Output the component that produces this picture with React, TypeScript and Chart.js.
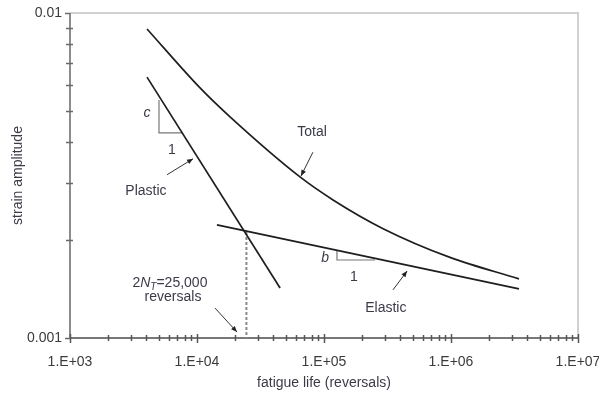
import React, { useEffect, useRef } from "react";
import { Chart, registerables } from "chart.js";

Chart.register(...registerables);

// ---- data ----
const xTickValues = [1e3, 1e4, 1e5, 1e6, 1e7];
const xTickLabels = ["1.E+03", "1.E+04", "1.E+05", "1.E+06", "1.E+07"];
const yTickValues = [0.001, 0.01];
const yTickLabels = ["0.001", "0.01"];

const totalLife = [4040, 10570, 18200, 64700, 117800, 292000, 982000, 3430000];
const totalStrain = [0.00893, 0.00588, 0.00479, 0.00313, 0.00266, 0.00217, 0.00177, 0.00152];

const elasticLife = [14350, 3430000];
const elasticStrain = [0.00223, 0.001416];

const plasticLife = [4040, 45100];
const plasticStrain = [0.00635, 0.001425];

const transitionLife = [24500, 24500];
const transitionStrain = [0.00212, 0.001];

const cTriangleLife = [5020, 5020, 7760];
const cTriangleStrain = [0.0054, 0.00428, 0.00428];

const bTriangleLife = [126500, 126500, 252000];
const bTriangleStrain = [0.001854, 0.001738, 0.001738];

const FONT = '"Liberation Sans", Arial, sans-serif';
const TEXT_COLOR = "#3b3b48";
const FS = 14;

const pts = (xs: number[], ys: number[]) => xs.map((x, i) => ({ x, y: ys[i] }));

const minorValues = (decades: number[]) => {
  const out: number[] = [];
  decades.forEach((d) => {
    for (let m = 2; m <= 9; m++) out.push(d * m);
  });
  return out;
};

const framePlugin = {
  id: "frameTicks",
  beforeDatasetsDraw(chart: any) {
    const { ctx, chartArea: a, scales } = chart;
    const xs = scales.x;
    const ys = scales.y;
    ctx.save();
    ctx.strokeStyle = "#d0d0d0";
    ctx.lineWidth = 2;
    ctx.beginPath();
    ctx.moveTo(a.left, a.top);
    ctx.lineTo(a.right, a.top);
    ctx.lineTo(a.right, a.bottom);
    ctx.stroke();
    ctx.strokeStyle = "#8c8c8c";
    ctx.lineWidth = 2;
    ctx.beginPath();
    ctx.moveTo(a.left, a.top);
    ctx.lineTo(a.left, a.bottom);
    ctx.stroke();
    ctx.strokeStyle = "#4a4a4a";
    ctx.lineWidth = 1.5;
    ctx.beginPath();
    ctx.moveTo(a.left, a.bottom);
    ctx.lineTo(a.right, a.bottom);
    ctx.stroke();

    ctx.strokeStyle = "#6a6a6a";
    ctx.lineWidth = 1.5;
    minorValues([0.001]).forEach((v) => {
      const py = Math.round(ys.getPixelForValue(v)) + 0.5;
      ctx.beginPath();
      ctx.moveTo(a.left - 4, py);
      ctx.lineTo(a.left + 3, py);
      ctx.stroke();
    });
    yTickValues.forEach((v) => {
      const py = Math.round(ys.getPixelForValue(v)) + 0.5;
      ctx.beginPath();
      ctx.moveTo(a.left - 5, py);
      ctx.lineTo(a.left, py);
      ctx.stroke();
    });
    ctx.strokeStyle = "#555";
    minorValues([1e3, 1e4, 1e5, 1e6]).forEach((v) => {
      const px = Math.round(xs.getPixelForValue(v)) + 0.5;
      ctx.beginPath();
      ctx.moveTo(px, a.bottom - 3);
      ctx.lineTo(px, a.bottom + 3);
      ctx.stroke();
    });
    xTickValues.forEach((v) => {
      const px = Math.round(xs.getPixelForValue(v)) + 0.5;
      ctx.beginPath();
      ctx.moveTo(px, a.bottom - 4);
      ctx.lineTo(px, a.bottom + 5);
      ctx.stroke();
    });
    ctx.restore();
  },
  afterDatasetsDraw(chart: any) {
    const { ctx, scales } = chart;
    const X = (v: number) => scales.x.getPixelForValue(v);
    const Y = (v: number) => scales.y.getPixelForValue(v);
    ctx.save();
    ctx.fillStyle = TEXT_COLOR;
    ctx.textBaseline = "middle";
    ctx.textAlign = "center";
    const text = (s: string, lx: number, ly: number, italic = false) => {
      ctx.font = `${italic ? "italic " : ""}${FS}px ${FONT}`;
      ctx.fillText(s, X(lx), Y(ly));
    };
    const arrow = (x1: number, y1: number, x2: number, y2: number) => {
      const ax = X(x1), ay = Y(y1), bx = X(x2), by = Y(y2);
      ctx.strokeStyle = "#333";
      ctx.fillStyle = "#222";
      ctx.lineWidth = 1;
      ctx.beginPath();
      ctx.moveTo(ax, ay);
      ctx.lineTo(bx, by);
      ctx.stroke();
      const ang = Math.atan2(by - ay, bx - ax);
      const L = 6, W = 2.5;
      ctx.beginPath();
      ctx.moveTo(bx, by);
      ctx.lineTo(bx - L * Math.cos(ang) + W * Math.sin(ang), by - L * Math.sin(ang) - W * Math.cos(ang));
      ctx.lineTo(bx - L * Math.cos(ang) - W * Math.sin(ang), by - L * Math.sin(ang) + W * Math.cos(ang));
      ctx.closePath();
      ctx.fill();
      ctx.fillStyle = TEXT_COLOR;
    };

    text("Total", 80500, 0.0043);
    arrow(81800, 0.00373, 65900, 0.00315);

    text("Plastic", 3960, 0.00283);
    arrow(5810, 0.00318, 9310, 0.00356);

    text("c", 4040, 0.00492, true);
    text("1", 6350, 0.00379);

    text("b", 101900, 0.001762, true);
    text("1", 172000, 0.001542);

    text("Elastic", 307000, 0.001236);
    arrow(349000, 0.001406, 451000, 0.001607);

    {
      const cx = X(6120), cy = Y(0.001476);
      const parts: [string, string, number][] = [
        ["2", `${FS}px ${FONT}`, 0],
        ["N", `italic ${FS}px ${FONT}`, 0],
        ["T", `italic 10px ${FONT}`, 4],
        ["=25,000", `${FS}px ${FONT}`, 0],
      ];
      let total = 0;
      parts.forEach(([s, f]) => {
        ctx.font = f;
        total += ctx.measureText(s).width;
      });
      let x0 = cx - total / 2;
      ctx.textAlign = "left";
      parts.forEach(([s, f, dy]) => {
        ctx.font = f;
        ctx.fillText(s, x0, cy + dy);
        x0 += ctx.measureText(s).width;
      });
      ctx.textAlign = "center";
    }
    text("reversals", 6470, 0.001337);
    arrow(13870, 0.001236, 20650, 0.001043);
    ctx.restore();
  },
};

export default function App() {
  const ref = useRef<HTMLCanvasElement | null>(null);
  useEffect(() => {
    document.body.style.margin = "0";
    const canvas = ref.current;
    if (!canvas) return;
    const lineStyle = {
      borderColor: "#1e1e1e",
      borderWidth: 1.7,
      pointRadius: 0,
      fill: false,
    };
    const chart = new Chart(canvas, {
      type: "line",
      data: {
        datasets: [
          { label: "Total", data: pts(totalLife, totalStrain), ...lineStyle, cubicInterpolationMode: "monotone" },
          { label: "Elastic", data: pts(elasticLife, elasticStrain), ...lineStyle },
          { label: "Plastic", data: pts(plasticLife, plasticStrain), ...lineStyle },
          {
            label: "Transition",
            data: pts(transitionLife, transitionStrain),
            borderColor: "#8a8a8a",
            borderWidth: 2,
            borderDash: [3, 2],
            pointRadius: 0,
            fill: false,
          },
          {
            label: "c",
            data: pts(cTriangleLife, cTriangleStrain),
            borderColor: "#777",
            borderWidth: 1.2,
            pointRadius: 0,
            fill: false,
          },
          {
            label: "b",
            data: pts(bTriangleLife, bTriangleStrain),
            borderColor: "#777",
            borderWidth: 1.2,
            pointRadius: 0,
            fill: false,
          },
        ],
      },
      options: {
        responsive: false,
        animation: false,
        devicePixelRatio: 1,
        layout: { padding: { top: 13, right: 21, left: 0, bottom: 0 } },
        plugins: {
          legend: { display: false },
          tooltip: { enabled: false },
        },
        scales: {
          x: {
            type: "logarithmic",
            position: "bottom",
            min: 1e3,
            max: 1e7,
            afterBuildTicks: (scale: any) => {
              scale.ticks = xTickValues.map((v) => ({ value: v }));
            },
            afterFit: (scale: any) => {
              scale.height = 58;
              scale.paddingLeft = 0;
              scale.paddingRight = 0;
            },
            grid: { display: false, drawTicks: false },
            border: { display: false },
            ticks: {
              autoSkip: false,
              maxRotation: 0,
              padding: 16,
              color: "#3b3b3b",
              font: { family: FONT, size: FS },
              callback: (_v: any, i: number) => xTickLabels[i],
            },
            title: {
              display: true,
              text: "fatigue life (reversals)",
              color: TEXT_COLOR,
              font: { family: FONT, size: FS },
              padding: { top: 0, bottom: 4.5 },
            },
          },
          y: {
            type: "logarithmic",
            position: "left",
            min: 0.001,
            max: 0.01,
            afterBuildTicks: (scale: any) => {
              scale.ticks = yTickValues.map((v) => ({ value: v }));
            },
            afterFit: (scale: any) => {
              scale.width = 70;
              scale.paddingTop = 0;
              scale.paddingBottom = 0;
            },
            grid: { display: false, drawTicks: false },
            border: { display: false },
            ticks: {
              autoSkip: false,
              padding: 8,
              color: "#3b3b3b",
              font: { family: FONT, size: FS },
              callback: (_v: any, i: number) => yTickLabels[i],
            },
            title: {
              display: true,
              text: "strain amplitude",
              color: TEXT_COLOR,
              font: { family: FONT, size: FS },
              padding: { top: 9.5, bottom: 0 },
            },
          },
        },
      },
      plugins: [framePlugin],
    } as any);
    return () => chart.destroy();
  }, []);
  return <canvas ref={ref} width={599} height={396} style={{ display: "block" }} />;
}
